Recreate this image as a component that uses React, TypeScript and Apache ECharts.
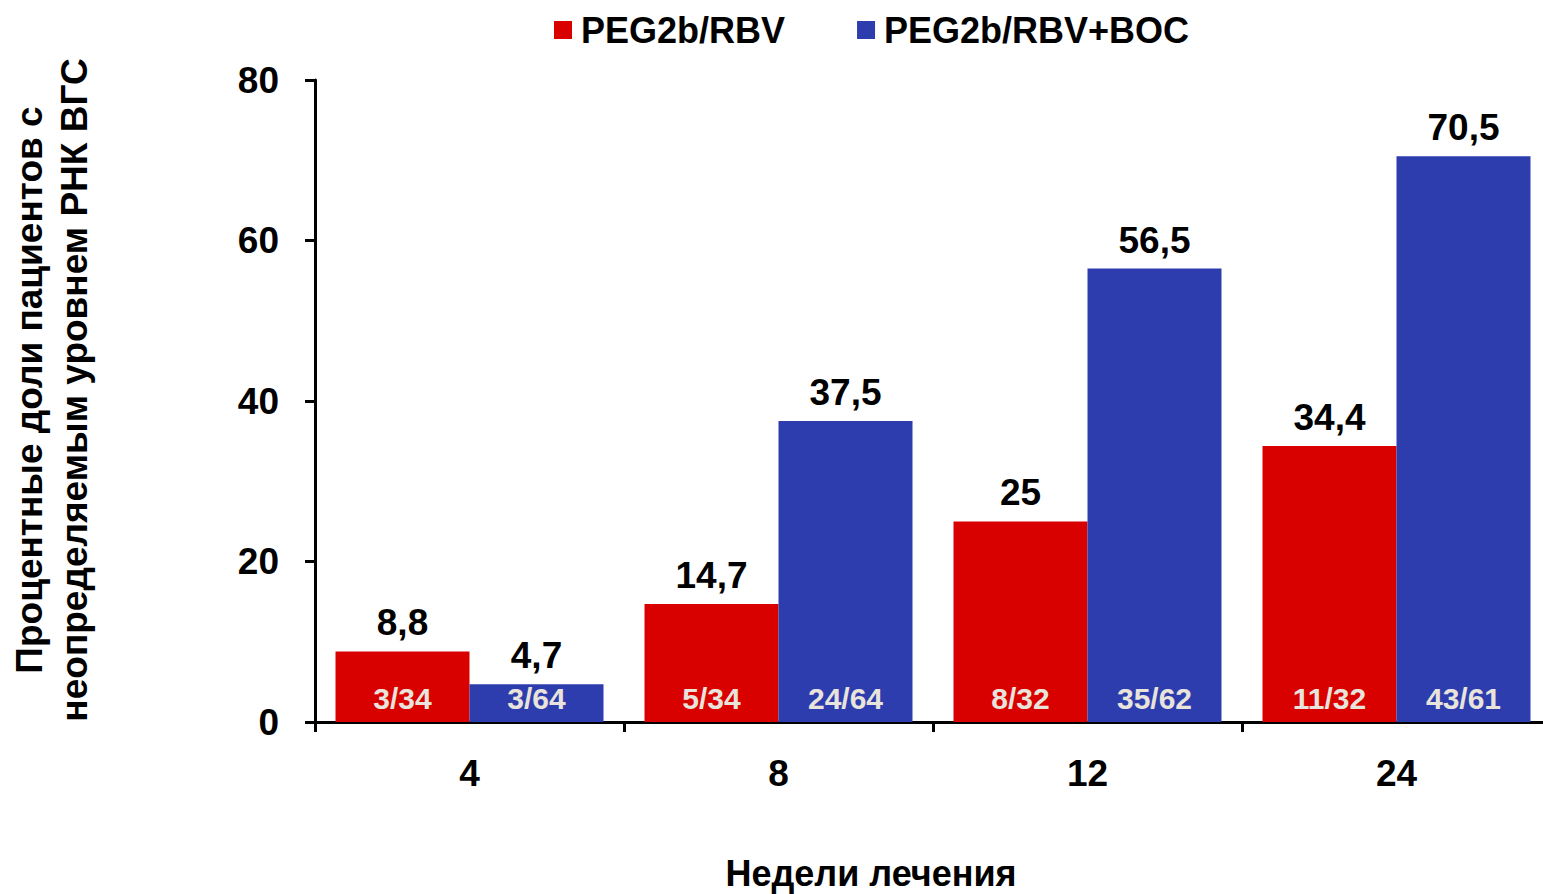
import React, { useEffect, useRef } from "react";
import * as echarts from "echarts";

const categories = ["4", "8", "12", "24"];
const seriesNames = ["PEG2b/RBV", "PEG2b/RBV+BOC"];
const redValues = [8.8, 14.7, 25, 34.4];
const blueValues = [4.7, 37.5, 56.5, 70.5];
const redFractions = ["3/34", "5/34", "8/32", "11/32"];
const blueFractions = ["3/64", "24/64", "35/62", "43/61"];
const yTitle = "Процентные доли пациентов с\nнеопределяемым уровнем РНК ВГС";
const xTitle = "Недели лечения";

const RED = "#d90000";
const BLUE = "#2e3dad";
const FONT = "Liberation Sans, Arial, sans-serif";

export default function App() {
  const ref = useRef<HTMLDivElement>(null);
  useEffect(() => {
    if (!ref.current) return;
    const chart = echarts.init(ref.current, undefined, { renderer: "svg" });
    const valueLabel = {
      show: true,
      position: "top",
      distance: 10,
      fontFamily: FONT,
      fontWeight: "bold",
      fontSize: 37,
      color: "#000",
      formatter: (p: any) => String(p.value).replace(".", ","),
    };
    const fracLabel = (arr: string[]) => ({
      show: true,
      position: "insideBottom",
      distance: 9,
      fontFamily: FONT,
      fontWeight: "bold",
      fontSize: 30,
      color: "#e8e4dc",
      formatter: (p: any) => arr[p.dataIndex],
    });
    const xAxisBase = {
      type: "category",
      data: categories,
      axisLine: { lineStyle: { color: "#000", width: 3 } },
      axisTick: { show: true, length: 10, lineStyle: { color: "#000", width: 3 } },
      axisLabel: {
        margin: 33,
        fontFamily: FONT,
        fontWeight: "bold",
        fontSize: 37,
        color: "#000",
      },
      splitLine: { show: false },
    };
    chart.setOption({
      animation: false,
      backgroundColor: "#fff",
      grid: { left: 315, right: 0, top: 80, bottom: 172, containLabel: false },
      legend: {
        data: seriesNames,
        left: 549,
        top: 7,
        icon: "rect",
        itemWidth: 18,
        itemHeight: 18,
        itemGap: 72,
        textStyle: {
          fontFamily: FONT,
          fontWeight: "bold",
          fontSize: 36,
          color: "#000",
          padding: [0, 0, 0, 4],
        },
      },
      xAxis: [xAxisBase, { ...xAxisBase, show: false }],
      yAxis: {
        type: "value",
        min: 0,
        max: 80,
        interval: 20,
        axisLine: { show: true, lineStyle: { color: "#000", width: 3 } },
        axisTick: { show: true, length: 10, lineStyle: { color: "#000", width: 3 } },
        axisLabel: {
          margin: 36,
          fontFamily: FONT,
          fontWeight: "bold",
          fontSize: 37,
          color: "#000",
        },
        splitLine: { show: false },
      },
      graphic: [
        {
          type: "text",
          x: 871,
          y: 873,
          style: {
            text: xTitle,
            fontFamily: FONT,
            fontWeight: "bold",
            fontSize: 36,
            fill: "#000",
            align: "center",
            verticalAlign: "middle",
          },
        },
        {
          type: "text",
          x: 52,
          y: 390,
          rotation: Math.PI / 2,
          style: {
            text: yTitle,
            fontFamily: FONT,
            fontWeight: "bold",
            fontSize: 37,
            lineHeight: 45,
            fill: "#000",
            align: "center",
            verticalAlign: "middle",
          },
        },
      ],
      series: [
        {
          name: seriesNames[0],
          type: "bar",
          xAxisIndex: 0,
          data: redValues,
          barWidth: 134,
          barGap: "0%",
          itemStyle: { color: RED },
          label: valueLabel,
        },
        {
          name: seriesNames[1],
          type: "bar",
          xAxisIndex: 0,
          data: blueValues,
          barWidth: 134,
          barGap: "0%",
          itemStyle: { color: BLUE },
          label: valueLabel,
        },
        {
          name: "fr1",
          type: "bar",
          xAxisIndex: 1,
          data: redValues,
          barWidth: 134,
          barGap: "0%",
          silent: true,
          itemStyle: { color: "rgba(0,0,0,0)" },
          label: fracLabel(redFractions),
        },
        {
          name: "fr2",
          type: "bar",
          xAxisIndex: 1,
          data: blueValues,
          barWidth: 134,
          barGap: "0%",
          silent: true,
          itemStyle: { color: "rgba(0,0,0,0)" },
          label: fracLabel(blueFractions),
        },
      ],
    });
    return () => chart.dispose();
  }, []);
  return (
    <div
      ref={ref}
      style={{ position: "fixed", left: 0, top: 0, width: 1551, height: 894 }}
    />
  );
}
